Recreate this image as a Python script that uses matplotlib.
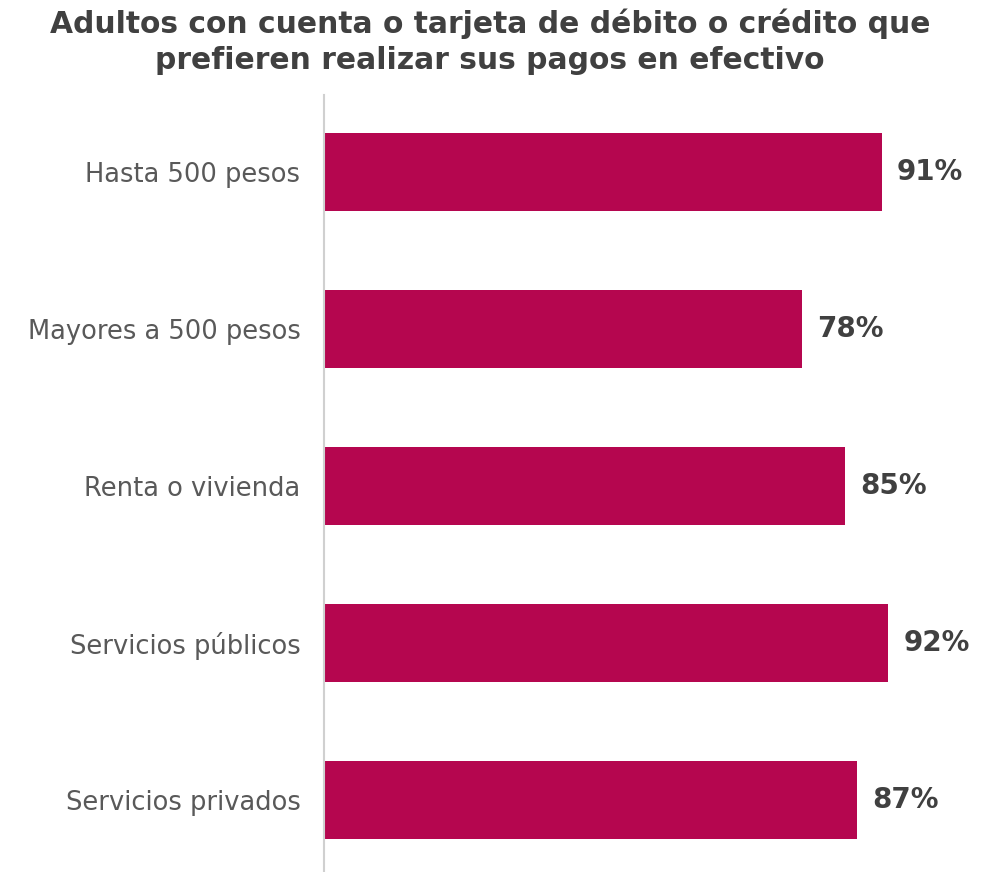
import matplotlib
matplotlib.use("Agg")
import matplotlib.pyplot as plt

# Preferencia por efectivo según tipo de pago
categorias = ["Hasta 500 pesos", "Mayores a 500 pesos", "Renta o vivienda",
              "Servicios públicos", "Servicios privados"]
porcentajes = [91, 78, 85, 92, 87]

titulo = ("Adultos con cuenta o tarjeta de débito o crédito que\n"
          "prefieren realizar sus pagos en efectivo")

color_barra = "#B5064F"
color_texto = "#404040"
color_etiqueta = "#595959"

plt.rcParams['font.family'] = ['DejaVu Sans']

fig = plt.figure(figsize=(9.86, 8.72), dpi=100)
ax = fig.add_axes([324 / 986, 0, 662 / 986, 777 / 872])

y = range(len(categorias))
ax.barh(y, porcentajes, height=0.5, color=color_barra)

for i, v in enumerate(porcentajes):
    ax.text(v + 2.5, i, f"{v}%", va="center", ha="left",
            fontsize=20, fontweight="heavy", color=color_texto)

ax.set_xlim(0, 108)
ax.set_ylim(4.46, -0.49)
ax.set_yticks(list(y))
ax.set_yticklabels(categorias, fontsize=18.5, color=color_etiqueta)
ax.tick_params(axis="y", length=0, pad=17)
ax.set_xticks([])

for lado in ["top", "right", "bottom"]:
    ax.spines[lado].set_visible(False)
ax.spines["left"].set_color("#d0d0d0")
ax.spines["left"].set_linewidth(1.5)

fig.text(0.497, 0.99, titulo, ha="center", va="top", fontsize=21.4,
         fontweight="bold", color=color_texto, linespacing=1.3)

fig.savefig("out.png", dpi=100)
